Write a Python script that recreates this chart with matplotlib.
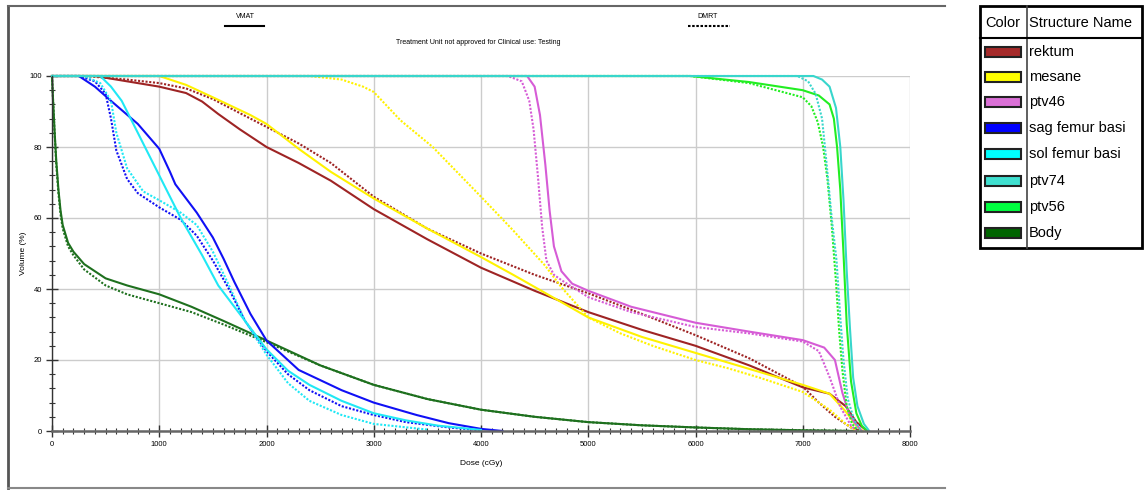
#!/usr/bin/env python3
"""
DVH comparison (VMAT vs DMRT) recreated with matplotlib.
Solid lines = VMAT, dotted lines = DMRT.
"""

import matplotlib
matplotlib.use('Agg')
import matplotlib.pyplot as plt
from matplotlib.lines import Line2D
from matplotlib.patches import Rectangle

W, H = 1144, 490
NARROW = ['Liberation Sans Narrow', 'DejaVu Sans Condensed', 'Liberation Sans', 'DejaVu Sans']

# ---- data (dose in cGy, volume in %) ----
structures = ['rektum', 'mesane', 'ptv46', 'sag femur basi', 'sol femur basi', 'ptv74', 'ptv56', 'Body']
legend_colors = ['#A52A2A', '#FFFF00', '#DA70D6', '#0000FF', '#00FFFF', '#40E0D0', '#00FF40', '#006400']
line_colors = ['#9E2424', '#FFF200', '#D65CD6', '#1010F5', '#20E8F5', '#38D6CC', '#22EE22', '#1E701E']

rektum_vmat_dose = [0, 400, 700, 1000, 1250, 1400, 1550, 1750, 2000, 2300, 2600, 3000, 3500, 4000, 4500, 5000, 5500, 6000, 6500, 7000, 7250, 7400, 7500, 7600]
rektum_vmat_vol = [100, 100, 98.5, 97, 95.2, 92.8, 89.3, 85, 80, 75.5, 70.5, 62.5, 54, 46, 39.5, 33.5, 28.5, 24, 18.5, 12.3, 10.5, 7, 2.5, 0]
rektum_dmrt_dose = [0, 300, 700, 1000, 1250, 1500, 1850, 2300, 2600, 3000, 3500, 4000, 4500, 5000, 5500, 6000, 6500, 7000, 7150, 7300, 7450, 7550]
rektum_dmrt_vol = [100, 100, 99, 98, 96.5, 93.5, 88, 81, 75.5, 66, 57, 50, 44, 38.8, 33, 27, 20.5, 12.5, 8, 4, 1, 0]

mesane_vmat_dose = [0, 1000, 1250, 1500, 1850, 2000, 2300, 2600, 3000, 3500, 4000, 4300, 4650, 5000, 5500, 6000, 6500, 7000, 7250, 7400, 7500, 7560]
mesane_vmat_vol = [100, 100, 97.5, 94, 89, 86.5, 79.5, 73, 65.5, 57, 49, 44, 38, 32, 26.5, 22, 17.5, 13, 10.5, 5.5, 1.5, 0]
mesane_dmrt_dose = [0, 2400, 2700, 2900, 3000, 3250, 3550, 4000, 4300, 4600, 4750, 5000, 5300, 5600, 6000, 6300, 6600, 7000, 7250, 7400, 7500]
mesane_dmrt_vol = [100, 100, 99, 97, 95.5, 87.5, 80, 66, 56.5, 46.5, 40.5, 32, 27.5, 24, 20, 17.7, 15, 11, 6, 2, 0]

ptv46_vmat_dose = [0, 4430, 4500, 4550, 4600, 4640, 4680, 4750, 4850, 5000, 5400, 6000, 6500, 7000, 7200, 7300, 7370, 7430, 7480, 7550]
ptv46_vmat_vol = [100, 100, 97, 89, 75, 62, 52, 45, 41.5, 39.5, 35, 30.5, 28, 25.6, 23.5, 20, 10.7, 5, 2.5, 0]
ptv46_dmrt_dose = [0, 4250, 4380, 4450, 4490, 4530, 4570, 4610, 4680, 4750, 5000, 5400, 6000, 6500, 7000, 7150, 7250, 7350, 7450, 7500]
ptv46_dmrt_vol = [100, 100, 98.5, 93, 85, 72, 57.5, 48, 44, 42.5, 37.7, 33.5, 29.3, 27.5, 25.2, 22.5, 15.2, 6.8, 1.5, 0]

sag_vmat_dose = [0, 250, 400, 550, 800, 1000, 1100, 1150, 1250, 1350, 1500, 1600, 1700, 1850, 2000, 2300, 2700, 3000, 3400, 3700, 4000, 4200]
sag_vmat_vol = [100, 100, 97, 93, 86.5, 79.5, 73, 69.5, 65.5, 61.5, 54.5, 48.5, 42, 33, 25.5, 17.2, 11.5, 8, 4.5, 2.2, 0.6, 0]
sag_dmrt_dose = [0, 250, 400, 500, 550, 600, 700, 800, 1000, 1200, 1350, 1500, 1650, 1800, 2000, 2200, 2400, 2700, 3000, 3300, 3700, 4000]
sag_dmrt_vol = [100, 100, 98.5, 95, 88, 79, 71, 67, 63, 59.5, 55, 48, 40, 31, 22.5, 16, 11.5, 7, 4.5, 2.5, 1, 0.2]

sol_vmat_dose = [0, 450, 550, 650, 800, 1000, 1200, 1400, 1550, 1750, 2000, 2200, 2400, 2700, 3000, 3300, 3600, 4000]
sol_vmat_vol = [100, 100, 97, 93, 84, 72, 60, 49.5, 41, 33, 23, 17, 13, 8.5, 5, 3, 1.5, 0.3]
sol_dmrt_dose = [0, 300, 450, 550, 600, 700, 850, 1000, 1200, 1350, 1500, 1650, 1800, 2000, 2200, 2400, 2700, 3000, 3500]
sol_dmrt_vol = [100, 100, 98, 93, 84, 74, 67.5, 65, 61.5, 58, 50.5, 41, 31, 21.5, 13.5, 8.5, 4.5, 2, 0.4]

ptv74_vmat_dose = [0, 7100, 7180, 7250, 7310, 7350, 7380, 7410, 7440, 7470, 7510, 7570, 7620]
ptv74_vmat_vol = [100, 100, 99, 97, 91, 80, 65, 45, 29, 15, 7, 2, 0]
ptv74_dmrt_dose = [0, 6950, 7050, 7120, 7180, 7220, 7270, 7315, 7350, 7380, 7420, 7480, 7550]
ptv74_dmrt_vol = [100, 100, 98.5, 95, 88, 76, 60, 48, 32, 20, 9, 3, 0]

ptv56_vmat_dose = [0, 5950, 6500, 7000, 7150, 7250, 7290, 7320, 7350, 7380, 7410, 7450, 7500, 7550, 7600]
ptv56_vmat_vol = [100, 100, 98.3, 96, 94.5, 92, 88, 80, 68, 50, 30, 14, 5, 1.5, 0]
ptv56_dmrt_dose = [0, 5950, 6500, 7000, 7080, 7140, 7190, 7230, 7270, 7310, 7340, 7370, 7410, 7460, 7520]
ptv56_dmrt_vol = [100, 100, 98, 94, 91.5, 87, 80, 71, 58, 42, 28, 17, 7, 2, 0]

body_vmat_dose = [0, 10, 25, 40, 60, 80, 100, 150, 200, 300, 500, 700, 1000, 1300, 1600, 2000, 2500, 3000, 3500, 4000, 4500, 5000, 5500, 6000, 6500, 7000, 7500]
body_vmat_vol = [100, 93, 84, 76, 68, 62, 58, 53, 50.5, 47, 43, 41, 38.5, 35, 31, 25.5, 18.5, 13, 9, 6, 4, 2.5, 1.6, 1, 0.5, 0.2, 0]
body_dmrt_dose = [0, 10, 25, 40, 60, 80, 100, 150, 200, 300, 500, 700, 1000, 1300, 1600, 2000, 2500, 3000, 3500, 4000, 4500, 5000, 5500, 6000, 6500, 7000, 7500]
body_dmrt_vol = [100, 93, 83.5, 75, 67, 61, 57, 52, 49.5, 45.5, 41, 38.5, 36, 33.5, 30, 25, 18.5, 13, 9, 6, 4, 2.5, 1.6, 1, 0.5, 0.2, 0]

x_ticks = [0, 1000, 2000, 3000, 4000, 5000, 6000, 7000, 8000]
y_ticks = [0, 20, 40, 60, 80, 100]


def fx(px):
    return px / W


def fy(py):
    return 1 - py / H


fig = plt.figure(figsize=(W / 100, H / 100), dpi=100)
fig.patch.set_facecolor('white')

ax = fig.add_axes([fx(52), fy(431), fx(910) - fx(52), fy(76) - fy(431)])

# curves: (vmat, dmrt) pairs per structure, in the drawing order
curves = {
    'Body': ((body_vmat_dose, body_vmat_vol), (body_dmrt_dose, body_dmrt_vol)),
    'rektum': ((rektum_vmat_dose, rektum_vmat_vol), (rektum_dmrt_dose, rektum_dmrt_vol)),
    'mesane': ((mesane_vmat_dose, mesane_vmat_vol), (mesane_dmrt_dose, mesane_dmrt_vol)),
    'ptv46': ((ptv46_vmat_dose, ptv46_vmat_vol), (ptv46_dmrt_dose, ptv46_dmrt_vol)),
    'sag femur basi': ((sag_vmat_dose, sag_vmat_vol), (sag_dmrt_dose, sag_dmrt_vol)),
    'sol femur basi': ((sol_vmat_dose, sol_vmat_vol), (sol_dmrt_dose, sol_dmrt_vol)),
    'ptv56': ((ptv56_vmat_dose, ptv56_vmat_vol), (ptv56_dmrt_dose, ptv56_dmrt_vol)),
    'ptv74': ((ptv74_vmat_dose, ptv74_vmat_vol), (ptv74_dmrt_dose, ptv74_dmrt_vol)),
}

for name, (vmat, dmrt) in curves.items():
    c = line_colors[structures.index(name)]
    ax.plot(dmrt[0], dmrt[1], color=c, lw=1.5, linestyle=(0, (1, 0.8)), clip_on=False)
    ax.plot(vmat[0], vmat[1], color=c, lw=1.5, linestyle='-', clip_on=False)

ax.set_xlim(0, 8000)
ax.set_ylim(0, 100)
ax.set_xticks(x_ticks)
ax.set_yticks(y_ticks)
ax.set_xticks(range(0, 8001, 100), minor=True)
ax.set_yticks(range(0, 101, 4), minor=True)
ax.grid(True, which='major', color='#cccccc', lw=1.0)
ax.set_axisbelow(True)

for side in ('top', 'right'):
    ax.spines[side].set_visible(False)
ax.spines['left'].set_color('#333333')
ax.spines['left'].set_linewidth(1.0)
ax.spines['bottom'].set_color('#666666')
ax.spines['bottom'].set_linewidth(1.8)

ax.tick_params(which='major', direction='inout', length=8, width=1, color='#333333',
               labelsize=5.5, pad=3)
ax.tick_params(which='minor', direction='inout', length=4, width=0.8, color='#333333')
for lab in ax.get_xticklabels() + ax.get_yticklabels():
    lab.set_family(NARROW)

ax.set_xlabel('Dose (cGy)', fontsize=6, family=NARROW, labelpad=9)
ax.set_ylabel('Volume (%)', fontsize=6, family=NARROW, labelpad=2)

# header above the plot
fig.text(fx(478), fy(42), 'Treatment Unit not approved for Clinical use: Testing',
         fontsize=5, family=NARROW, ha='center', va='center')
fig.text(fx(245), fy(16), 'VMAT', fontsize=5, family=NARROW, ha='center', va='center')
fig.text(fx(708), fy(16), 'DMRT', fontsize=5, family=NARROW, ha='center', va='center')
fig.add_artist(Line2D([fx(225), fx(264)], [fy(26), fy(26)], color='black', lw=1.5))
fig.add_artist(Line2D([fx(688), fx(730)], [fy(26), fy(26)], color='black', lw=1.5,
                      linestyle=(0, (1.2, 0.8))))

# outer frame (left, top, bottom)
fig.add_artist(Line2D([fx(8), fx(8)], [fy(6), fy(488)], color='#555555', lw=2))
fig.add_artist(Line2D([fx(8), fx(945)], [fy(6), fy(6)], color='#666666', lw=1.5))
fig.add_artist(Line2D([fx(8), fx(945)], [fy(488), fy(488)], color='#888888', lw=1.5))

# legend table on the right
left, right, top, bottom = 980, 1142, 6, 248
fig.add_artist(Rectangle((fx(left), fy(bottom)), fx(right) - fx(left), fy(top) - fy(bottom),
                         transform=fig.transFigure, fill=False, edgecolor='black', lw=2))
fig.add_artist(Line2D([fx(1027), fx(1027)], [fy(top), fy(bottom)], color='#444444', lw=1.2))
fig.add_artist(Line2D([fx(left), fx(right)], [fy(38), fy(38)], color='black', lw=1.5))
fig.text(fx(1003), fy(23), 'Color', fontsize=10.5, family=NARROW, ha='center', va='center')
fig.text(fx(1029), fy(23), 'Structure Name', fontsize=10.5, family=NARROW, ha='left', va='center')

row_y = [52, 77, 102, 128, 154, 181, 207, 233]
for name, col, y in zip(structures, legend_colors, row_y):
    fig.add_artist(Rectangle((fx(985), fy(y + 5)), fx(1021) - fx(985), fy(y - 5) - fy(y + 5),
                             transform=fig.transFigure, facecolor=col,
                             edgecolor='#222222', lw=1.5))
    fig.text(fx(1029), fy(y), name, fontsize=10.5, family=NARROW, ha='left', va='center')

fig.savefig('out.png', dpi=100)
